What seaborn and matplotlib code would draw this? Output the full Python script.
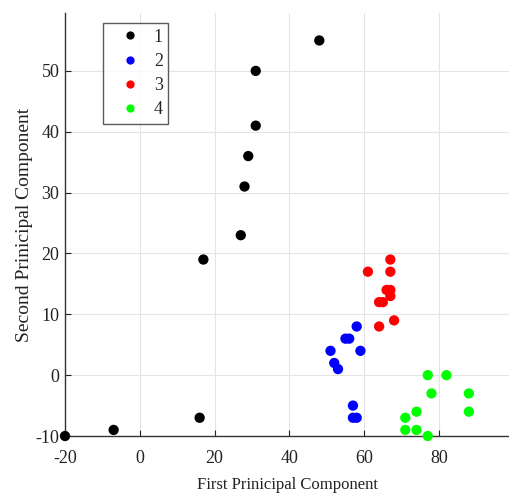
import matplotlib
matplotlib.use("Agg")
import matplotlib.pyplot as plt
import seaborn as sns
import pandas as pd

g1_x = [48, 31, 31, 29, 28, 27, 17, 16, -7, -20]
g1_y = [55, 50, 41, 36, 31, 23, 19, -7, -9, -10]
g2_x = [58, 55, 56, 51, 59, 52, 53, 57, 57, 58]
g2_y = [8, 6, 6, 4, 4, 2, 1, -5, -7, -7]
g3_x = [67, 61, 67, 66, 67, 67, 64, 65, 64, 68]
g3_y = [19, 17, 17, 14, 14, 13, 12, 12, 8, 9]
g4_x = [77, 82, 78, 88, 88, 74, 71, 71, 74, 77]
g4_y = [0, 0, -3, -3, -6, -6, -7, -9, -9, -10]

groups = ["1", "2", "3", "4"]
colors = ["#000000", "#0000ff", "#ff0000", "#00ff00"]

xs = [g1_x, g2_x, g3_x, g4_x]
ys = [g1_y, g2_y, g3_y, g4_y]
rows = []
for g, gx, gy in zip(groups, xs, ys):
    for a, b in zip(gx, gy):
        rows.append({"x": a, "y": b, "group": g})
df = pd.DataFrame(rows)

sns.set_style("white")
plt.rcParams["font.family"] = ["Liberation Serif", "DejaVu Serif"]
plt.rcParams["axes.unicode_minus"] = False

fig = plt.figure(figsize=(5.10, 4.97), dpi=100)
ax = fig.add_axes([0.1275, 0.1227, 0.8725, 0.851])

sns.scatterplot(data=df, x="x", y="y", hue="group", hue_order=groups,
                palette=dict(zip(groups, colors)), s=55, edgecolor="none",
                ax=ax, zorder=3, clip_on=False)

ax.set_xlim(-20, 99)
ax.set_ylim(-10, 59.5)
ax.set_xticks([-20, 0, 20, 40, 60, 80])
ax.set_yticks([-10, 0, 10, 20, 30, 40, 50])
ax.grid(True, color="#e4e4e4", linewidth=0.8)
ax.set_axisbelow(True)
for sp in ["top", "right"]:
    ax.spines[sp].set_visible(False)
for sp in ["left", "bottom"]:
    ax.spines[sp].set_color("#333333")
    ax.spines[sp].set_linewidth(1.0)
ax.tick_params(direction="in", length=4, labelsize=13, colors="#222222",
               bottom=True, left=True)
ax.tick_params(axis="x", pad=10)
ax.tick_params(axis="y", pad=4)
ax.set_xlabel("First Prinicipal Component", fontsize=12, color="#222222", labelpad=7)
ax.set_ylabel("Second Prinicipal Component", fontsize=14, color="#222222", labelpad=2)

leg = ax.legend(title=None, loc="upper left", bbox_to_anchor=(0.085, 0.976),
                frameon=True, fancybox=False, fontsize=13, markerscale=0.8,
                handletextpad=0.12, borderpad=0.3, labelspacing=0.4,
                handlelength=2.4, borderaxespad=0)
leg.get_frame().set_edgecolor("#333333")
leg.get_frame().set_linewidth(1.0)

fig.savefig("out.png", dpi=100)
